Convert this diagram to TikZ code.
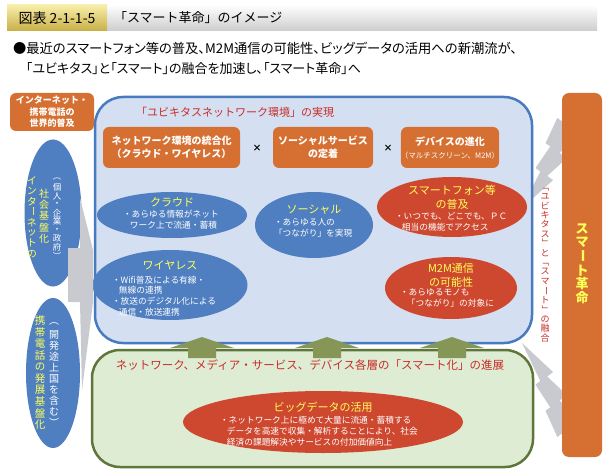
\documentclass[tikz,border=0pt]{standalone}
\usepackage{fontspec}
\setmainfont{Noto Sans CJK JP}
\usepackage{graphicx}
\usetikzlibrary{shapes.geometric}
\definecolor{orgC}{RGB}{214,112,50}
\definecolor{bluE}{RGB}{79,127,192}
\definecolor{bluF}{RGB}{212,223,241}
\definecolor{bluD}{RGB}{72,122,192}
\definecolor{redE}{RGB}{206,72,48}
\definecolor{yelT}{RGB}{255,255,90}
\definecolor{redT}{RGB}{200,45,40}
\definecolor{grnF}{RGB}{222,236,212}
\definecolor{grnD}{RGB}{95,118,58}
\definecolor{oliv}{RGB}{134,150,86}
\definecolor{grayB}{RGB}{200,202,207}
\definecolor{goldT}{RGB}{248,238,170}
\definecolor{goldB}{RGB}{200,175,70}
\newcommand\chouon{\rotatebox[origin=c]{-90}{ー}}
\newcommand\vopen{\rotatebox[origin=c]{-90}{「}}
\newcommand\vclose{\rotatebox[origin=c]{-90}{」}}
\ExplSyntaxOn
\NewDocumentCommand \vtext { O{1.05em} m }
  {
    \vbox:n
      {
        \offinterlineskip
        \tl_map_inline:nn {#2}
          {
            \vbox_to_ht:nn {#1}
              { \vss \hbox_to_wd:nn {1em} { \hss ##1 \hss } \vss }
          }
      }
  }
\ExplSyntaxOff
\begin{document}
\begin{tikzpicture}[x=1pt,y=-1pt,
  every node/.style={inner sep=0pt,outer sep=0pt},
  orbox/.style={fill=orgC,rounded corners=6pt,text=white,align=center,font=\bfseries\fontsize{10}{13}\selectfont},
  bell/.style={ellipse,fill=bluE},
  rell/.style={ellipse,fill=redE},
  etitle/.style={text=yelT,align=center,font=\fontsize{11}{14}\selectfont},
  ebody/.style={text=white,align=left,anchor=west,font=\fontsize{8.7}{10.8}\selectfont},
  vcol/.style={anchor=north},
  pfont/.style={font=\fontsize{#1}{#1}\selectfont\addfontfeatures{RawFeature=+palt}},
]
\fill[white] (0,0) rectangle (610,473);
\useasboundingbox (0,0) rectangle (610,473);

% title bar
\node[top color=white, bottom color=gray!40, minimum width=490pt, minimum height=26pt, anchor=north west] (bar) at (107,5) {};
\node[top color=goldT, bottom color=goldB, minimum width=100pt, minimum height=26pt, anchor=north west] (tag) at (7,5) {};
\node[font=\fontsize{14}{16}\selectfont] (tagT) at (tag.center) {図表 2-1-1-5};
\node[font=\fontsize{13}{15}\selectfont, anchor=west] (titT) at (114,18) {「スマート革命」のイメージ};

% lead text
\node[anchor=west, pfont=13.3] (lead1) at (13,48) {●最近のスマートフォン等の普及、M2M通信の可能性、ビッグデータの活用への新潮流が、};
\node[anchor=west, pfont=13] (lead2) at (26,69) {「ユビキタス」と「スマート」の融合を加速し、「スマート革命」へ};

% gray connectors (behind)
\fill[grayB] (557.3,118) -- (545.5,143.3) -- (550.3,146.4) -- (535.5,168) -- (540.3,171.6) -- (522,208) -- (553.1,180.1) -- (547.2,176) -- (566.5,158.4) -- (559.6,152.9) -- (580,134.2) -- cycle;
\fill[grayB] (557.3,437) -- (545.5,410.6) -- (550.3,407.4) -- (535.5,384.7) -- (540.3,381) -- (522,343) -- (553.1,372.1) -- (547.2,376.5) -- (566.5,394.8) -- (559.6,400.5) -- (580,420.1) -- cycle;

% big boxes
\node[draw=grnD, line width=2.5pt, fill=grnF, rounded corners=28pt, minimum width=441pt, minimum height=117pt] (smart) at (312.5,408.5) {};
\node[draw=bluD, line width=2.5pt, fill=bluF, rounded corners=28pt, minimum width=437pt, minimum height=246pt] (ubi) at (313.5,220) {};

% up arrows
\foreach \cx in {202,327,452}{
  \fill[oliv] ({\cx-14},358) -- ({\cx-14},348) -- ({\cx-32},348) -- (\cx,337) -- ({\cx+32},348) -- ({\cx+14},348) -- ({\cx+14},358) -- cycle;
}

% blue box contents
\node[text=redT, font=\fontsize{11}{13}\selectfont] (ubiT) at (235,112) {「ユビキタスネットワーク環境」の実現};
\node[orbox, minimum width=137pt, minimum height=41pt] (net) at (171.5,147.5) {ネットワーク環境の統合化\\（クラウド・ワイヤレス）};
\node[font=\bfseries\fontsize{9}{11}\selectfont] (x1) at (257,148) {×};
\node[orbox, minimum width=100pt, minimum height=41pt] (soc) at (323,147.5) {ソーシャルサービス\\の定着};
\node[font=\bfseries\fontsize{9}{11}\selectfont] (x2) at (388,148) {×};
\node[orbox, minimum width=96pt, minimum height=41pt] (dev) at (450,147.5) {デバイスの進化\\{\mdseries\fontsize{7.5}{9}\selectfont（マルチスクリーン、M2M）}};

\node[bell, minimum width=150pt, minimum height=46pt] (cloud) at (172,215) {};
\node[etitle] (cloudT) at (172,202) {クラウド};
\node[ebody] (cloudB) at (123,220) {・あらゆる情報がネット\\\hspace{0.8em}ワーク上で流通・蓄積};

\node[bell, minimum width=118pt, minimum height=66pt] (social) at (314,225) {};
\node[etitle] (socialT) at (314,210) {ソーシャル};
\node[ebody] (socialB) at (274,228) {・あらゆる人の\\「つながり」を実現};

\node[bell, minimum width=155pt, minimum height=70pt] (wire) at (170,285) {};
\node[etitle] (wireT) at (170,265) {ワイヤレス};
\node[ebody] (wireB) at (112,296) {・Wifi普及による有線・\\\hspace{0.8em}無線の連携\\・放送のデジタル化による\\\hspace{0.8em}通信・放送連携};

\node[rell, minimum width=150pt, minimum height=60pt] (phone) at (452,207) {};
\node[etitle] (phoneT) at (452,197) {スマートフォン等\\の普及};
\node[ebody] (phoneB) at (395,222) {・いつでも、どこでも、ＰＣ\\\hspace{0.8em}相当の機能でアクセス};

\node[rell, minimum width=132pt, minimum height=62pt] (m2m) at (451,288) {};
\node[etitle] (m2mT) at (451,275) {M2M通信\\の可能性};
\node[ebody] (m2mB) at (400,298) {・あらゆるモノも\\\hspace{0.8em}「つながり」の対象に};

% green box contents
\node[text=redT, font=\fontsize{11.5}{13}\selectfont] (smartT) at (310,365) {ネットワーク、メディア・サービス、デバイス各層の「スマート化」の進展};
\node[rell, minimum width=280pt, minimum height=62pt] (big) at (323,422) {};
\node[etitle] (bigT) at (323,407) {ビッグデータの活用};
\node[ebody] (bigB) at (220,431) {・ネットワーク上に極めて大量に流通・蓄積する\\\hspace{0.8em}データを高速で収集・解析することにより、社会\\\hspace{0.8em}経済の課題解決やサービスの付加価値向上};

% left side
\node[orbox, font=\bfseries\fontsize{9}{11.5}\selectfont, minimum width=84pt, minimum height=38pt] (world) at (52,112) {インターネット・\\携帯電話の\\世界的普及};
\node[bell, minimum width=57pt, minimum height=147pt] (inet) at (53,213) {};
\node[bell, minimum width=54pt, minimum height=150pt] (mob) at (53,373) {};
\fill[grayB] (80,198) -- (93,250) -- (93,302) -- (82,390) -- (80,302) -- (68,302) -- (68,248) -- (80,248) -- cycle;
\node[vcol, text=yelT, font=\fontsize{10}{10}\selectfont] (inetA) at (32,175) {\vtext[1.05em]{インタ\chouon ネットの}};
\node[vcol, text=yelT, font=\fontsize{10}{10}\selectfont] (inetB) at (44,188) {\vtext[1.12em]{社会基盤化}};
\node[vcol, text=white, font=\fontsize{8.5}{8.5}\selectfont] (inetC) at (57,175) {\vtext[1em]{︵個人・企業・政府︶}};
\node[vcol, text=yelT, font=\fontsize{10.5}{10.5}\selectfont] (mobA) at (40,315) {\vtext[1.1em]{携帯電話の発展基盤化}};
\node[vcol, text=white, font=\fontsize{10}{10}\selectfont] (mobB) at (54,318) {\vtext[1.1em]{︵開発途上国を含む︶}};

% right side
\node[fill=orgC, rounded corners=7pt, minimum width=40pt, minimum height=364pt] (rev) at (582,275) {};
\node[vcol, text=yelT, font=\bfseries\fontsize{13}{13}\selectfont] (revT) at (582,222) {\vtext[1.06em]{スマ\chouon ト革命}};
\node[vcol, text=redT, font=\fontsize{9}{9}\selectfont] (fuse) at (545,182) {\vtext[1.05em]{\vopen ユビキタス\vclose と\vopen スマ\chouon ト\vclose の融合}};
\end{tikzpicture}
\end{document}
